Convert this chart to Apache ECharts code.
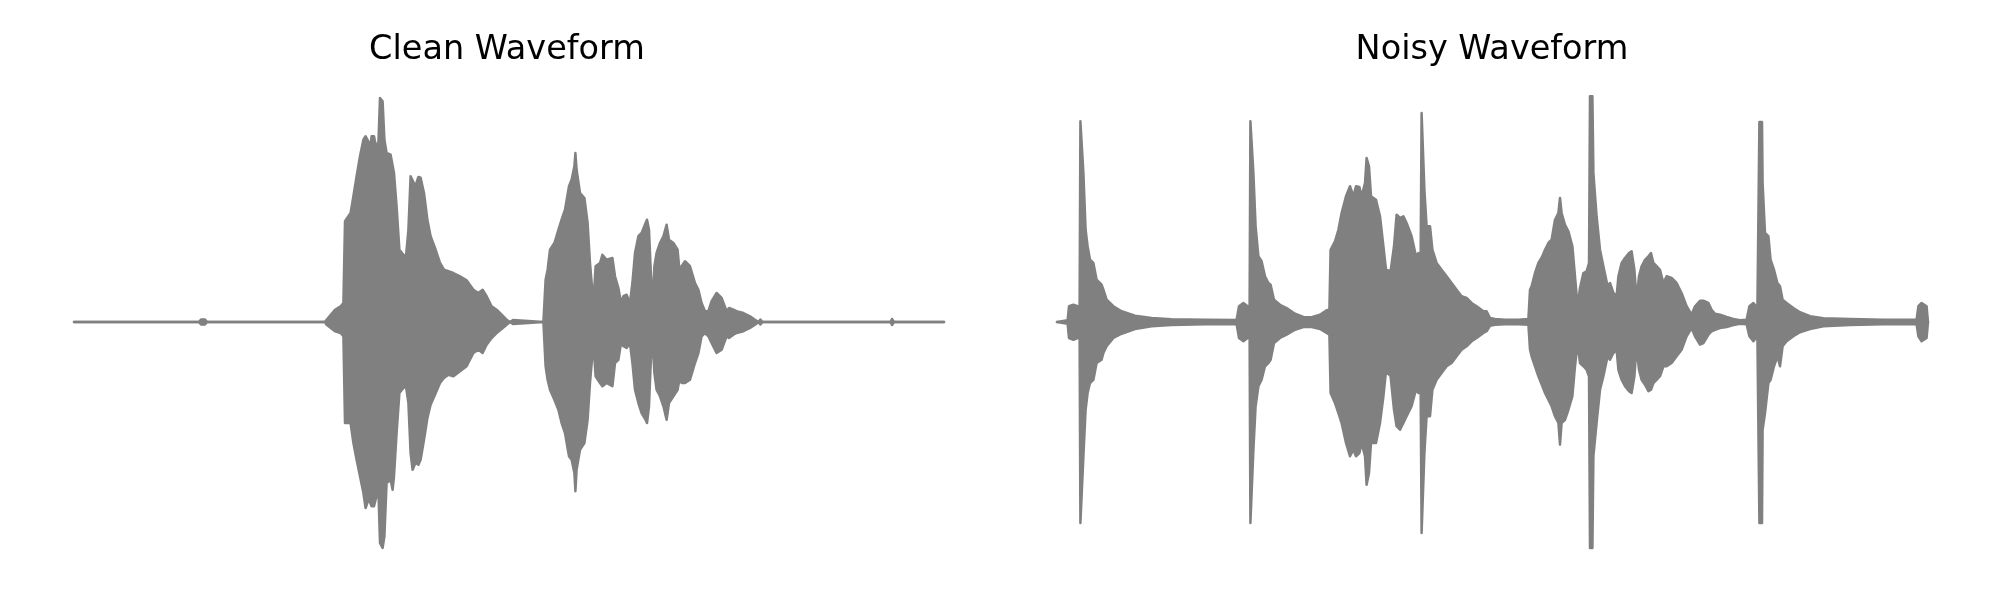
<!DOCTYPE html>
<html>
<head>
<meta charset="utf-8">
<script src="https://cdn.jsdelivr.net/npm/echarts@6/dist/echarts.min.js"></script>
<style>
  html, body { margin: 0; padding: 0; background: #ffffff; }
  #chart { width: 2000px; height: 600px; }
</style>
</head>
<body>
<div id="chart"></div>
<script>
// ---- Data (time in seconds, amplitude envelope) ----
const titles = ["Clean Waveform", "Noisy Waveform"];

const cleanTime = [0, 0.625, 0.635, 0.645, 0.655, 0.665, 1.255, 1.263, 1.305, 1.333, 1.347, 1.355, 1.383, 1.397, 1.413, 1.43, 1.447, 1.458, 1.472, 1.48, 1.488, 1.5, 1.508, 1.522, 1.53, 1.543, 1.552, 1.563, 1.583, 1.593, 1.6, 1.613, 1.627, 1.647, 1.66, 1.672, 1.683, 1.693, 1.707, 1.722, 1.733, 1.75, 1.767, 1.783, 1.805, 1.83, 1.85, 1.872, 1.897, 1.93, 1.963, 1.997, 2.022, 2.043, 2.063, 2.088, 2.113, 2.138, 2.163, 2.18, 2.19, 2.195, 2.2, 2.347, 2.358, 2.368, 2.38, 2.402, 2.422, 2.438, 2.455, 2.475, 2.488, 2.502, 2.507, 2.513, 2.53, 2.552, 2.568, 2.58, 2.597, 2.608, 2.63, 2.642, 2.663, 2.692, 2.705, 2.722, 2.735, 2.747, 2.763, 2.78, 2.792, 2.805, 2.822, 2.838, 2.858, 2.865, 2.875, 2.885, 2.893, 2.902, 2.913, 2.93, 2.947, 2.963, 2.975, 2.997, 3.018, 3.03, 3.038, 3.055, 3.08, 3.105, 3.122, 3.138, 3.155, 3.172, 3.188, 3.213, 3.238, 3.263, 3.275, 3.297, 3.313, 3.347, 3.38, 3.405, 3.422, 3.432, 3.442, 4.083, 4.09, 4.1, 4.35];
const cleanUpper = [0, 0, 0.01, 0.004, 0.01, 0, 0, 0.009, 0.049, 0.063, 0.076, 0.403, 0.436, 0.503, 0.583, 0.663, 0.729, 0.743, 0.723, 0.683, 0.743, 0.743, 0.709, 0.716, 0.896, 0.883, 0.729, 0.676, 0.669, 0.676, 0.596, 0.463, 0.289, 0.269, 0.263, 0.369, 0.583, 0.589, 0.543, 0.58, 0.577, 0.516, 0.409, 0.343, 0.296, 0.236, 0.209, 0.203, 0.196, 0.183, 0.167, 0.129, 0.116, 0.129, 0.103, 0.063, 0.049, 0.029, 0.009, 0, 0, 0.008, 0, 0, 0.169, 0.209, 0.289, 0.316, 0.369, 0.409, 0.449, 0.543, 0.569, 0.623, 0.676, 0.609, 0.516, 0.496, 0.396, 0.236, 0.076, 0.223, 0.236, 0.269, 0.249, 0.256, 0.183, 0.136, 0.076, 0.103, 0.109, 0.076, 0.156, 0.276, 0.343, 0.356, 0.396, 0.409, 0.369, 0.183, 0.076, 0.223, 0.276, 0.316, 0.343, 0.389, 0.329, 0.316, 0.289, 0.183, 0.223, 0.243, 0.223, 0.156, 0.129, 0.076, 0.043, 0.043, 0.083, 0.116, 0.096, 0.043, 0.056, 0.049, 0.043, 0.036, 0.023, 0.009, 0, 0.01, 0, 0, 0.012, 0, 0];
const cleanLower = [0, 0, -0.01, -0.004, -0.01, 0, 0, -0.011, -0.037, -0.044, -0.057, -0.404, -0.404, -0.484, -0.551, -0.617, -0.684, -0.744, -0.711, -0.72, -0.737, -0.737, -0.711, -0.671, -0.884, -0.904, -0.857, -0.644, -0.631, -0.671, -0.617, -0.444, -0.284, -0.264, -0.257, -0.324, -0.524, -0.591, -0.564, -0.571, -0.551, -0.471, -0.384, -0.331, -0.291, -0.244, -0.224, -0.211, -0.217, -0.197, -0.177, -0.124, -0.111, -0.124, -0.091, -0.064, -0.044, -0.028, -0.011, 0, 0, -0.008, 0, 0, -0.177, -0.231, -0.271, -0.311, -0.351, -0.404, -0.444, -0.537, -0.551, -0.604, -0.677, -0.591, -0.511, -0.484, -0.391, -0.244, -0.084, -0.217, -0.244, -0.257, -0.244, -0.257, -0.164, -0.151, -0.084, -0.097, -0.104, -0.084, -0.164, -0.271, -0.324, -0.364, -0.391, -0.404, -0.337, -0.137, -0.084, -0.204, -0.271, -0.297, -0.337, -0.391, -0.324, -0.297, -0.271, -0.217, -0.244, -0.244, -0.231, -0.164, -0.124, -0.057, -0.044, -0.057, -0.084, -0.124, -0.111, -0.057, -0.064, -0.051, -0.044, -0.037, -0.024, -0.011, 0, -0.01, 0, 0, -0.012, 0, 0];

const noisyTime = [0, 0.053, 0.06, 0.082, 0.103, 0.113, 0.117, 0.127, 0.132, 0.143, 0.153, 0.165, 0.182, 0.198, 0.223, 0.232, 0.248, 0.282, 0.323, 0.39, 0.473, 0.573, 0.74, 0.898, 0.91, 0.932, 0.953, 0.963, 0.967, 0.977, 0.982, 0.993, 1.007, 1.023, 1.04, 1.057, 1.068, 1.085, 1.115, 1.148, 1.19, 1.232, 1.273, 1.315, 1.348, 1.362, 1.368, 1.39, 1.407, 1.423, 1.445, 1.465, 1.482, 1.495, 1.512, 1.523, 1.54, 1.548, 1.56, 1.57, 1.595, 1.615, 1.632, 1.645, 1.668, 1.685, 1.698, 1.715, 1.732, 1.748, 1.773, 1.795, 1.807, 1.818, 1.823, 1.832, 1.837, 1.848, 1.865, 1.877, 1.898, 1.923, 1.948, 1.973, 1.998, 2.023, 2.048, 2.073, 2.098, 2.132, 2.148, 2.165, 2.19, 2.24, 2.307, 2.357, 2.365, 2.373, 2.39, 2.407, 2.427, 2.44, 2.457, 2.473, 2.49, 2.507, 2.515, 2.523, 2.54, 2.557, 2.577, 2.59, 2.603, 2.615, 2.632, 2.648, 2.66, 2.665, 2.677, 2.682, 2.698, 2.715, 2.732, 2.753, 2.765, 2.782, 2.798, 2.807, 2.823, 2.84, 2.86, 2.873, 2.887, 2.898, 2.91, 2.923, 2.94, 2.957, 2.97, 2.982, 2.998, 3.015, 3.032, 3.048, 3.073, 3.098, 3.123, 3.148, 3.173, 3.19, 3.215, 3.232, 3.257, 3.273, 3.29, 3.315, 3.348, 3.382, 3.415, 3.448, 3.462, 3.482, 3.502, 3.512, 3.525, 3.528, 3.54, 3.557, 3.568, 3.585, 3.602, 3.615, 3.628, 3.648, 3.682, 3.715, 3.765, 3.832, 3.965, 4.132, 4.298, 4.307, 4.323, 4.348, 4.355];
const noisyUpper = [0, 0.007, 0.063, 0.069, 0.063, 0.049, 0.803, 0.803, 0.596, 0.369, 0.303, 0.249, 0.236, 0.169, 0.149, 0.129, 0.089, 0.063, 0.043, 0.025, 0.016, 0.011, 0.009, 0.008, 0.063, 0.076, 0.063, 0.049, 0.803, 0.803, 0.596, 0.383, 0.263, 0.243, 0.183, 0.156, 0.149, 0.089, 0.069, 0.056, 0.033, 0.02, 0.019, 0.029, 0.047, 0.049, 0.289, 0.323, 0.369, 0.436, 0.503, 0.543, 0.503, 0.543, 0.54, 0.503, 0.556, 0.656, 0.623, 0.503, 0.489, 0.423, 0.303, 0.209, 0.203, 0.303, 0.429, 0.416, 0.423, 0.396, 0.343, 0.263, 0.276, 0.236, 0.836, 0.836, 0.529, 0.383, 0.383, 0.289, 0.236, 0.209, 0.183, 0.156, 0.129, 0.103, 0.096, 0.076, 0.063, 0.043, 0.043, 0.016, 0.012, 0.009, 0.009, 0.012, 0.129, 0.143, 0.196, 0.236, 0.263, 0.289, 0.316, 0.329, 0.409, 0.436, 0.496, 0.436, 0.389, 0.363, 0.303, 0.183, 0.063, 0.136, 0.196, 0.203, 0.236, 0.903, 0.903, 0.596, 0.423, 0.289, 0.223, 0.143, 0.156, 0.116, 0.103, 0.183, 0.236, 0.256, 0.276, 0.283, 0.209, 0.089, 0.183, 0.223, 0.249, 0.263, 0.276, 0.236, 0.223, 0.209, 0.156, 0.183, 0.176, 0.156, 0.116, 0.063, 0.029, 0.063, 0.085, 0.085, 0.076, 0.049, 0.033, 0.029, 0.02, 0.012, 0.007, 0.009, 0.063, 0.076, 0.056, 0.8, 0.8, 0.556, 0.356, 0.343, 0.249, 0.209, 0.156, 0.143, 0.089, 0.076, 0.056, 0.039, 0.023, 0.015, 0.012, 0.009, 0.009, 0.063, 0.076, 0.063, 0];
const noisyLower = [0, -0.007, -0.064, -0.071, -0.064, -0.051, -0.804, -0.804, -0.537, -0.351, -0.284, -0.244, -0.231, -0.164, -0.151, -0.124, -0.097, -0.064, -0.047, -0.028, -0.017, -0.012, -0.009, -0.008, -0.064, -0.077, -0.064, -0.051, -0.804, -0.804, -0.511, -0.337, -0.257, -0.231, -0.177, -0.164, -0.151, -0.084, -0.064, -0.051, -0.031, -0.02, -0.02, -0.028, -0.044, -0.051, -0.284, -0.324, -0.364, -0.404, -0.484, -0.537, -0.511, -0.537, -0.524, -0.484, -0.537, -0.651, -0.604, -0.484, -0.484, -0.404, -0.297, -0.197, -0.217, -0.351, -0.417, -0.431, -0.404, -0.377, -0.337, -0.271, -0.284, -0.244, -0.844, -0.844, -0.524, -0.377, -0.377, -0.271, -0.231, -0.204, -0.177, -0.164, -0.137, -0.111, -0.097, -0.077, -0.064, -0.044, -0.037, -0.015, -0.011, -0.009, -0.009, -0.011, -0.111, -0.137, -0.177, -0.217, -0.257, -0.284, -0.311, -0.337, -0.377, -0.404, -0.491, -0.404, -0.391, -0.351, -0.297, -0.177, -0.084, -0.164, -0.177, -0.191, -0.217, -0.904, -0.904, -0.537, -0.404, -0.271, -0.217, -0.137, -0.151, -0.124, -0.111, -0.191, -0.231, -0.257, -0.277, -0.284, -0.217, -0.097, -0.191, -0.231, -0.251, -0.277, -0.271, -0.244, -0.231, -0.217, -0.177, -0.177, -0.164, -0.137, -0.111, -0.057, -0.024, -0.057, -0.09, -0.084, -0.051, -0.037, -0.031, -0.024, -0.02, -0.012, -0.007, -0.009, -0.057, -0.077, -0.057, -0.804, -0.804, -0.431, -0.364, -0.244, -0.231, -0.177, -0.137, -0.177, -0.097, -0.077, -0.057, -0.041, -0.028, -0.017, -0.012, -0.009, -0.009, -0.057, -0.077, -0.064, 0];

// ---- Build chart ----
const WAVE_COLOR = '#808080';
function pairs(t, v) { return t.map((x, i) => [x, v[i]]); }

const grids = [
  { left: 74, top: 72, width: 871, height: 500 },
  { left: 1057, top: 72, width: 871, height: 500 }
];
const titleCenters = [507, 1492];

function envSeries(idx, t, v) {
  return {
    type: 'line', xAxisIndex: idx, yAxisIndex: idx,
    data: pairs(t, v), showSymbol: false, symbol: 'none', smooth: false,
    sampling: null, silent: true,
    lineStyle: { color: WAVE_COLOR, width: 2.5, join: 'round', cap: 'round' },
    areaStyle: { color: WAVE_COLOR, opacity: 1, origin: 0 }
  };
}

const chart = echarts.init(document.getElementById('chart'), null, { renderer: 'canvas' });
chart.setOption({
  animation: false,
  backgroundColor: '#ffffff',
  title: titles.map((txt, i) => ({
    text: txt, left: titleCenters[i], top: 33, textAlign: 'center', padding: 0,
    textStyle: { fontFamily: 'DejaVu Sans', fontSize: 33.5, fontWeight: 'normal', color: '#000000' }
  })),
  grid: grids,
  xAxis: [0, 1].map(i => ({ type: 'value', gridIndex: i, min: 0, max: 4.355, show: false })),
  yAxis: [0, 1].map(i => ({ type: 'value', gridIndex: i, min: -1, max: 1, show: false })),
  series: [
    envSeries(0, cleanTime, cleanUpper),
    envSeries(0, cleanTime, cleanLower),
    envSeries(1, noisyTime, noisyUpper),
    envSeries(1, noisyTime, noisyLower)
  ]
});
</script>
</body>
</html>
